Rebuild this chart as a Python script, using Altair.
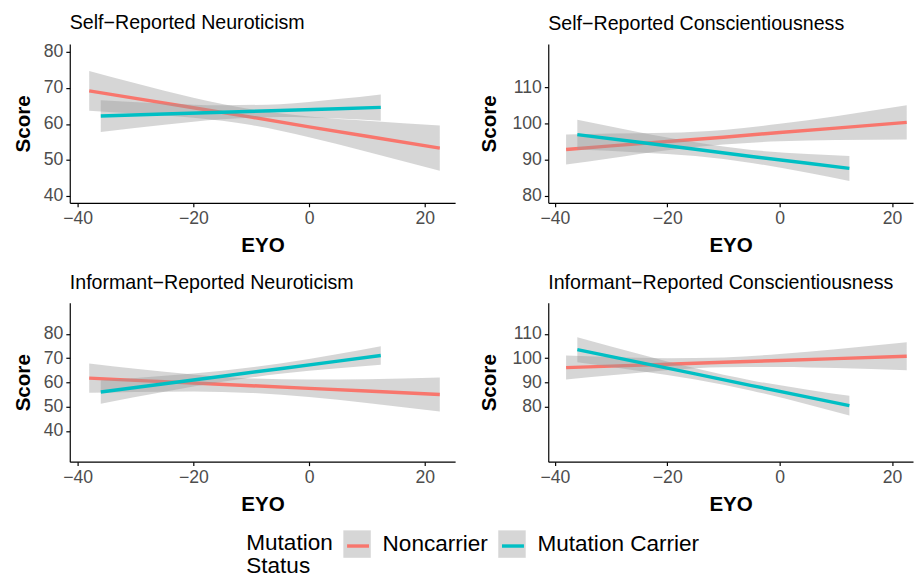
import altair as alt
import pandas as pd

STATUS = ["Noncarrier", "Mutation Carrier"]
COLORS = ["#F8766D", "#00BFC4"]

NC_X = [-38, -30, -20, -10, 0, 10, 22.6]
MC_X = [-36, -25, -15, -5, 5, 12.4]

# Panel 1: Self-Reported Neuroticism
p1_nc_fit = [69.2, 67.1, 64.5, 61.9, 59.2, 56.6, 53.3]
p1_nc_lo = [63.7, 62.9, 61.7, 59.7, 56.3, 52.3, 47.0]
p1_nc_hi = [74.7, 71.3, 67.3, 64.1, 62.1, 60.9, 59.6]
p1_mc_fit = [62.2, 62.75, 63.25, 63.73, 64.23, 64.6]
p1_mc_lo = [57.8, 59.8, 61.3, 61.9, 61.5, 60.9]
p1_mc_hi = [66.6, 65.7, 65.2, 65.5, 66.9, 68.2]

# Panel 2: Self-Reported Conscientiousness
p2_nc_fit = [92.8, 93.8, 95.0, 96.2, 97.5, 98.7, 100.3]
p2_nc_lo = [88.65, 90.4, 92.6, 94.2, 95.1, 95.4, 95.6]
p2_nc_hi = [96.95, 97.2, 97.4, 98.2, 99.9, 102.0, 105.0]
p2_mc_fit = [96.9, 94.8, 92.9, 90.9, 89.0, 87.6]
p2_mc_lo = [92.8, 92.0, 91.0, 89.1, 86.4, 84.15]
p2_mc_hi = [101.0, 97.6, 94.8, 92.7, 91.6, 91.05]

# Panel 3: Informant-Reported Neuroticism
p3_nc_fit = [61.8, 60.9, 59.8, 58.7, 57.6, 56.5, 55.1]
p3_nc_lo = [55.75, 56.1, 56.3, 55.7, 54.0, 51.6, 48.1]
p3_nc_hi = [67.85, 65.7, 63.3, 61.7, 61.2, 61.4, 62.1]
p3_mc_fit = [56.1, 59.5, 62.6, 65.7, 68.8, 71.1]
p3_mc_lo = [51.3, 56.2, 60.3, 63.6, 65.9, 67.3]
p3_mc_hi = [60.9, 62.8, 64.9, 67.8, 71.7, 74.9]

# Panel 4: Informant-Reported Conscientiousness
p4_nc_fit = [96.1, 96.7, 97.5, 98.3, 99.05, 99.8, 100.8]
p4_nc_lo = [91.15, 92.9, 95.0, 96.3, 96.4, 95.9, 95.0]
p4_nc_hi = [101.05, 100.5, 100.0, 100.3, 101.7, 103.7, 106.6]
p4_mc_fit = [103.5, 98.25, 93.5, 88.7, 83.95, 80.4]
p4_mc_lo = [98.35, 94.75, 91.2, 86.6, 80.9, 76.35]
p4_mc_hi = [108.65, 101.75, 95.8, 90.8, 87.0, 84.45]

TITLES = [
    "Self\u2212Reported Neuroticism",
    "Self\u2212Reported Conscientiousness",
    "Informant\u2212Reported Neuroticism",
    "Informant\u2212Reported Conscientiousness",
]
Y_TICKS_N = [40, 50, 60, 70, 80]
Y_TICKS_C = [80, 90, 100, 110]
X_TICKS = [-40, -20, 0, 20]

rows = []


def add(panel, status, xs, fit, lo, hi):
    for x, f, l, h in zip(xs, fit, lo, hi):
        rows.append(dict(panel=panel, status=status, band=status, x=x, fit=f, lo=l, hi=h))


add(1, STATUS[0], NC_X, p1_nc_fit, p1_nc_lo, p1_nc_hi)
add(1, STATUS[1], MC_X, p1_mc_fit, p1_mc_lo, p1_mc_hi)
add(2, STATUS[0], NC_X, p2_nc_fit, p2_nc_lo, p2_nc_hi)
add(2, STATUS[1], MC_X, p2_mc_fit, p2_mc_lo, p2_mc_hi)
add(3, STATUS[0], NC_X, p3_nc_fit, p3_nc_lo, p3_nc_hi)
add(3, STATUS[1], MC_X, p3_mc_fit, p3_mc_lo, p3_mc_hi)
add(4, STATUS[0], NC_X, p4_nc_fit, p4_nc_lo, p4_nc_hi)
add(4, STATUS[1], MC_X, p4_mc_fit, p4_mc_lo, p4_mc_hi)
df = pd.DataFrame(rows)

LEG_X, LEG_Y = 180, 496
LEG_TITLE = ["Mutation", "Status"]

stroke_scale = alt.Scale(domain=STATUS, range=COLORS)
# data-driven domain (sorted) so that this legend is not merged with the stroke legend
fill_scale = alt.Scale(range=["#999999", "#999999"])

# keys: grey boxes with title and labels
fill_legend = alt.Legend(
    orient="none", legendX=LEG_X, legendY=LEG_Y, direction="horizontal",
    title=LEG_TITLE, titleOrient="left", titlePadding=10,
    symbolType="square", symbolSize=784, symbolOpacity=0.4, symbolStrokeWidth=0,
    labelOffset=12, columnPadding=10, labelLimit=0, zindex=1,
)
# coloured strokes drawn on top of the grey boxes (no text of their own)
stroke_legend = alt.Legend(
    orient="none", legendX=LEG_X + 98, legendY=LEG_Y, direction="horizontal",
    title=None, labelExpr="''", labelOffset=0, columnPadding=120,
    symbolType="M-0.8,0H0.8", symbolSize=784, symbolStrokeWidth=3.5,
    symbolOpacity=1, zindex=2,
)


def panel(pid, xdom, ydom, yvals, width, ext, tpad):
    base = alt.Chart(df[df.panel == pid])
    xs = alt.Scale(domain=xdom, nice=False, zero=False)
    ys = alt.Scale(domain=ydom, nice=False, zero=False)
    xax = alt.Axis(values=X_TICKS, title="EYO", titlePadding=8, labelPadding=3)
    yax = alt.Axis(values=yvals, title="Score", minExtent=ext, maxExtent=ext,
                   titlePadding=tpad, labelPadding=3)
    layers = []
    for s in STATUS:
        sub = base.transform_filter(alt.datum.status == s)
        band = sub.mark_area(opacity=0.4, interpolate="monotone").encode(
            x=alt.X("x:Q", scale=xs, axis=xax),
            y=alt.Y("lo:Q", scale=ys, axis=yax),
            y2="hi:Q",
            fill=alt.Fill("band:N", sort=STATUS, scale=fill_scale, legend=fill_legend),
        )
        line = sub.mark_line(strokeWidth=3.5).encode(
            x=alt.X("x:Q", scale=xs, axis=xax),
            y=alt.Y("fit:Q", scale=ys, axis=yax),
            stroke=alt.Stroke("status:N", scale=stroke_scale, legend=stroke_legend),
        )
        layers += [band, line]
    return alt.layer(*layers).properties(
        width=width, height=162,
        title=alt.TitleParams(TITLES[pid - 1], anchor="start", frame="group"),
    )


XL = [-41.36, 25.25]
XR = [-41.17, 23.72]
p1 = panel(1, XL, [38.1, 82.2], Y_TICKS_N, 393, 27, 10)
p2 = panel(2, XR, [78.1, 121.9], Y_TICKS_C, 372, 37, 13)
p3 = panel(3, XL, [27.4, 92.8], Y_TICKS_N, 393, 27, 10)
p4 = panel(4, XR, [57.3, 122.8], Y_TICKS_C, 372, 37, 13)

row1 = alt.hconcat(p1, p2, spacing=24).resolve_scale(x="independent", y="independent")
row2 = alt.hconcat(p3, p4, spacing=24).resolve_scale(x="independent", y="independent")

chart = (
    alt.vconcat(row1, row2, spacing=18)
    .resolve_scale(x="independent", y="independent")
    .properties(padding={"left": 5, "top": 0, "right": 0, "bottom": 0})
    .configure(font="Liberation Sans")
    .configure_view(stroke=None)
    .configure_axis(
        grid=False, domainColor="black", domainWidth=1.2, tickColor="black",
        tickWidth=1.2, tickSize=4, labelColor="#4D4D4D", labelFontSize=18,
        labelFont="Liberation Sans", titleFont="Liberation Sans",
        titleFontSize=21, titleFontWeight="bold", titleColor="black",
    )
    .configure_title(font="Liberation Sans", fontSize=20, fontWeight="normal",
                     color="black", offset=10)
    .configure_legend(
        labelFont="Liberation Sans", labelFontSize=23, labelColor="black",
        titleFont="Liberation Sans", titleFontSize=23, titleFontWeight="normal",
        titleColor="black", titleLineHeight=24, padding=0, titleBaseline="top",
    )
)

chart.save("out.html", embed_options={"renderer": "svg", "actions": False})
